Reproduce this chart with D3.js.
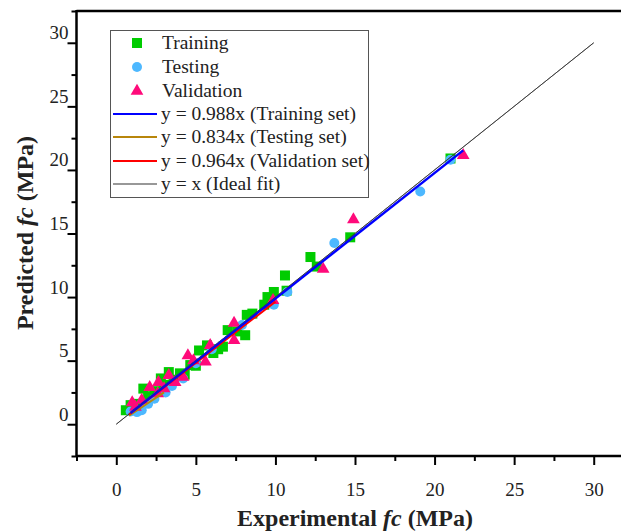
<!DOCTYPE html>
<html lang="en">
  <head>
    <meta charset="UTF-8" />
    <title>Predicted vs Experimental fc</title>
    <script src="https://cdn.jsdelivr.net/npm/d3@7"></script>
    <style>
      body {
        margin: 0;
        background: #fff;
      }
      text {
        font-family: "Liberation Serif", "Times New Roman", serif;
      }
    </style>
  </head>
  <body>
    <svg id="chart" width="621" height="531"></svg>
    <script>
      // data (MPa)
      let trainX = [0.6, 0.9, 1.2, 1.7, 2.0, 2.4, 2.8, 3.0, 3.3, 3.6, 4.0, 4.3, 4.65, 5.0, 5.2, 5.7, 6.1, 6.4, 6.7, 7.0, 7.6, 8.1, 8.2, 8.55, 9.3, 9.5, 9.9, 10.6, 10.7, 12.2, 12.6, 14.7, 21.0];
      let trainY = [1.1, 1.5, 1.6, 2.8, 2.2, 2.6, 3.6, 3.1, 4.1, 3.5, 4.0, 3.9, 4.65, 4.6, 5.8, 6.2, 5.6, 5.9, 6.1, 7.4, 7.3, 7.0, 8.6, 8.7, 9.4, 10.0, 10.4, 11.7, 10.5, 13.15, 12.4, 14.7, 20.9];
      let testX = [0.9, 1.3, 1.6, 2.0, 2.4, 3.1, 3.5, 4.2, 5.0, 6.0, 7.9, 9.9, 10.75, 13.7, 19.1, 21.0];
      let testY = [1.0, 0.95, 1.1, 1.6, 2.0, 2.5, 3.0, 3.6, 4.8, 5.9, 7.8, 9.4, 10.4, 14.25, 18.3, 20.8];
      let valX = [1.0, 1.2, 1.6, 2.1, 2.6, 2.65, 3.0, 3.3, 3.7, 4.2, 4.5, 4.85, 5.6, 5.9, 7.4, 7.4, 9.85, 13.0, 14.9, 21.8];
      let valY = [1.7, 1.35, 1.9, 2.9, 2.4, 3.3, 2.8, 3.85, 3.3, 3.7, 5.4, 5.0, 4.9, 6.2, 7.95, 6.6, 9.75, 12.2, 16.1, 21.15];

      // fitted lines: slope and x extent
      let fitNames = ["y = 0.988x (Training set)", "y = 0.834x (Testing set)", "y = 0.964x (Validation set)", "y = x (Ideal fit)"];
      let fitSlopes = [0.988, 0.834, 0.964, 1];
      let fitFrom = [0.9, 0.8, 0.8, 0];
      let fitTo = [21.8, 3.0, 10.0, 30];

      let majorTicks = [0, 5, 10, 15, 20, 25, 30];
      let minorTicks = [-2.5, 2.5, 7.5, 12.5, 17.5, 22.5, 27.5, 32.5];

      let green = "#00cc00";
      let blue = "#4db8ff";
      let pink = "#ff0a7a";
      let lineColors = ["#0000ff", "#b8860b", "#ff0000", "#333333"];
      let lineWidths = [2.5, 2, 2, 1];

      let svg = d3.select("#chart");

      let x = d3.scaleLinear().domain([-2.5, 32.5]).range([76.5, 633.5]);
      let y = d3.scaleLinear().domain([-2.5, 32.5]).range([456, 11]);

      // frame top line
      svg
        .append("line")
        .attr("x1", x(-2.5))
        .attr("x2", 621)
        .attr("y1", y(32.5))
        .attr("y2", y(32.5))
        .attr("stroke", "#000")
        .attr("stroke-width", 2.5);

      // minor ticks
      svg
        .append("g")
        .attr("transform", "translate(0," + y(-2.5) + ")")
        .call(d3.axisBottom(x).tickValues(minorTicks).tickSize(5).tickFormat(""))
        .call((g) => g.select(".domain").remove())
        .selectAll("line")
        .attr("stroke-width", 2);
      svg
        .append("g")
        .attr("transform", "translate(" + x(-2.5) + ",0)")
        .call(d3.axisLeft(y).tickValues(minorTicks).tickSize(5).tickFormat(""))
        .call((g) => g.select(".domain").remove())
        .selectAll("line")
        .attr("stroke-width", 2);

      // major ticks + labels
      let xAxis = svg
        .append("g")
        .attr("transform", "translate(0," + y(-2.5) + ")")
        .call(d3.axisBottom(x).tickValues(majorTicks).tickSize(9).tickSizeOuter(0));
      xAxis.select(".domain").remove();
      xAxis.selectAll("line").attr("stroke-width", 2);
      xAxis
        .selectAll("text")
        .attr("y", 40)
        .attr("dy", null)
        .style("font-size", "19px")
        .attr("fill", "#222");

      let yAxis = svg
        .append("g")
        .attr("transform", "translate(" + x(-2.5) + ",0)")
        .call(d3.axisLeft(y).tickValues(majorTicks).tickSize(9).tickSizeOuter(0));
      yAxis.select(".domain").remove();
      yAxis.selectAll("line").attr("stroke-width", 2);
      yAxis
        .selectAll("text")
        .attr("x", -8)
        .attr("y", -4)
        .attr("dy", null)
        .style("font-size", "19px")
        .attr("fill", "#222");

      // axis lines
      svg
        .append("line")
        .attr("x1", x(-2.5))
        .attr("x2", 621)
        .attr("y1", y(-2.5))
        .attr("y2", y(-2.5))
        .attr("stroke", "#000")
        .attr("stroke-width", 2.5);
      svg
        .append("line")
        .attr("x1", x(-2.5))
        .attr("x2", x(-2.5))
        .attr("y1", y(32.5) - 1)
        .attr("y2", y(-2.5) + 1)
        .attr("stroke", "#000")
        .attr("stroke-width", 2.5);

      // points
      let tri = d3.symbol().type(d3.symbolTriangle).size(70);
      let circ = d3.symbol().type(d3.symbolCircle).size(78);

      svg
        .append("g")
        .selectAll("rect")
        .data(trainX)
        .join("rect")
        .attr("x", (d) => x(d) - 5)
        .attr("y", (d, i) => y(trainY[i]) - 5)
        .attr("width", 10)
        .attr("height", 10)
        .attr("fill", green);

      svg
        .append("g")
        .selectAll("path")
        .data(testX)
        .join("path")
        .attr("d", circ)
        .attr("transform", (d, i) => "translate(" + x(d) + "," + y(testY[i]) + ")")
        .attr("fill", blue);

      svg
        .append("g")
        .selectAll("path")
        .data(valX)
        .join("path")
        .attr("d", tri)
        .attr("transform", (d, i) => "translate(" + x(d) + "," + y(valY[i]) + ")")
        .attr("fill", pink);

      // fit lines (brown first so it sits underneath)
      let order = [1, 3, 2, 0];
      order.forEach(function (k) {
        svg
          .append("line")
          .attr("x1", x(fitFrom[k]))
          .attr("y1", y(fitSlopes[k] * fitFrom[k]))
          .attr("x2", x(fitTo[k]))
          .attr("y2", y(fitSlopes[k] * fitTo[k]))
          .attr("stroke", lineColors[k])
          .attr("stroke-width", lineWidths[k]);
      });
      // ideal line again on top, thin
      svg
        .append("line")
        .attr("x1", x(0))
        .attr("y1", y(0))
        .attr("x2", x(30))
        .attr("y2", y(30))
        .attr("stroke", "#444")
        .attr("stroke-width", 0.8)
        .attr("stroke-opacity", 0.7);

      // legend
      let lg = svg.append("g");
      lg.append("rect")
        .attr("x", 110.5)
        .attr("y", 30.5)
        .attr("width", 258)
        .attr("height", 167)
        .attr("fill", "#fff")
        .attr("stroke", "#555")
        .attr("stroke-width", 1);

      let rowY = [43, 67, 91, 114, 137, 161, 184];
      let symNames = ["Training", "Testing", "Validation"];

      lg.append("rect")
        .attr("x", 132)
        .attr("y", rowY[0] - 5)
        .attr("width", 10)
        .attr("height", 10)
        .attr("fill", green);
      lg.append("path")
        .attr("d", circ)
        .attr("transform", "translate(137," + rowY[1] + ")")
        .attr("fill", blue);
      lg.append("path")
        .attr("d", tri)
        .attr("transform", "translate(137," + rowY[2] + ")")
        .attr("fill", pink);

      symNames.forEach(function (n, i) {
        lg.append("text")
          .attr("x", 162)
          .attr("y", rowY[i] + 6)
          .style("font-size", "19.5px")
          .attr("fill", "#222")
          .text(n);
      });

      fitNames.forEach(function (n, i) {
        let ry = rowY[i + 3];
        lg.append("line")
          .attr("x1", 113)
          .attr("x2", 157)
          .attr("y1", ry)
          .attr("y2", ry)
          .attr("stroke", lineColors[i])
          .attr("stroke-width", i == 3 ? 1.2 : 2);
        lg.append("text")
          .attr("x", 161)
          .attr("y", ry + 6)
          .style("font-size", "19.5px")
          .attr("fill", "#222")
          .text(n);
      });

      // axis titles
      let xt = svg
        .append("text")
        .attr("x", 355)
        .attr("y", 526)
        .attr("text-anchor", "middle")
        .style("font-size", "24px")
        .style("font-weight", "bold")
        .attr("fill", "#222");
      xt.append("tspan").text("Experimental ");
      xt.append("tspan").style("font-style", "italic").text("fc");
      xt.append("tspan").text(" (MPa)");

      let yt = svg
        .append("text")
        .attr("transform", "translate(33,233) rotate(-90)")
        .attr("text-anchor", "middle")
        .style("font-size", "24px")
        .style("font-weight", "bold")
        .attr("fill", "#222");
      yt.append("tspan").text("Predicted ");
      yt.append("tspan").style("font-style", "italic").text("fc");
      yt.append("tspan").text(" (MPa)");
    </script>
  </body>
</html>
